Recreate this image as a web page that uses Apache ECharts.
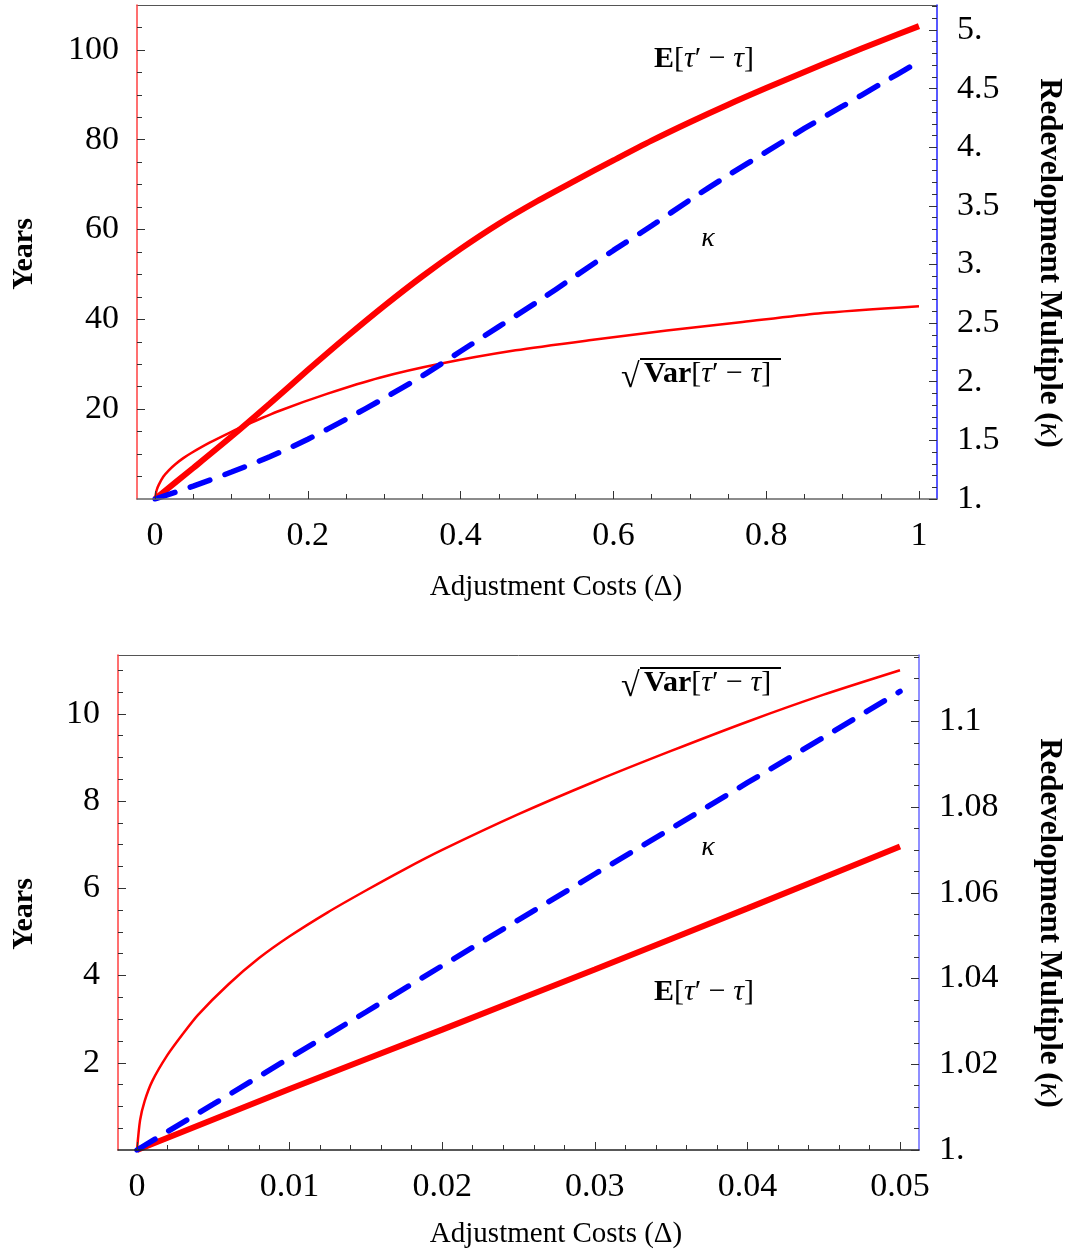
<!DOCTYPE html>
<html>
<head>
<meta charset="utf-8">
<script src="https://cdn.jsdelivr.net/npm/echarts@6/dist/echarts.min.js"></script>
<style>
  html, body { margin: 0; padding: 0; background: #fff; }
  #chart { width: 1069px; height: 1253px; }
</style>
</head>
<body>
<div id="chart"></div>
<script>
// ---- top panel, Δ from 0 to 1 ----
var topX = [0, 0.05, 0.1, 0.15, 0.2, 0.25, 0.3, 0.35, 0.4, 0.45, 0.5, 0.55, 0.6, 0.65, 0.7, 0.75, 0.8, 0.85, 0.9, 0.95, 1];
var topE = [0, 6.9, 13.9, 21.2, 28.7, 36.0, 43.0, 49.6, 55.7, 61.3, 66.3, 70.9, 75.4, 79.8, 83.9, 87.8, 91.5, 95.1, 98.6, 102.0, 105.3];
var topKappa = [1.0, 1.11, 1.23, 1.36, 1.51, 1.68, 1.86, 2.05, 2.26, 2.47, 2.68, 2.90, 3.12, 3.33, 3.55, 3.76, 3.96, 4.16, 4.35, 4.54, 4.73];
var topVarX = [0, 0.002, 0.005, 0.011, 0.018, 0.027, 0.037, 0.048, 0.072, 0.098, 0.118, 0.164, 0.225, 0.294, 0.373, 0.472, 0.571, 0.67, 0.769, 0.868, 1];
var topVar = [0, 1.9, 3.2, 5.0, 6.4, 7.8, 9.1, 10.3, 12.6, 14.8, 16.4, 19.7, 23.4, 27.0, 30.1, 33.1, 35.4, 37.5, 39.4, 41.3, 42.9];

// ---- bottom panel, Δ from 0 to 0.05 ----
var botX = [0, 0.005, 0.01, 0.015, 0.02, 0.025, 0.03, 0.035, 0.04, 0.045, 0.05];
var botE = [0, 0.7, 1.4, 2.08, 2.76, 3.45, 4.14, 4.84, 5.54, 6.25, 6.96];
var botKappa = [1, 1.0107, 1.0215, 1.0322, 1.043, 1.0537, 1.0644, 1.075, 1.0857, 1.0963, 1.107];
var botVarX = [0, 0.0002, 0.0005, 0.001, 0.002, 0.003, 0.004, 0.006, 0.008, 0.01, 0.0125, 0.015, 0.0175, 0.02, 0.025, 0.03, 0.035, 0.04, 0.045, 0.05];
var botVar = [0, 0.68, 1.12, 1.58, 2.18, 2.66, 3.1, 3.8, 4.4, 4.9, 5.45, 5.95, 6.43, 6.88, 7.7, 8.45, 9.15, 9.82, 10.44, 11.0];

// ---- tick labels ----
var topXTicks = [0, 0.2, 0.4, 0.6, 0.8, 1];
var topYearTicks = [20, 40, 60, 80, 100];
var topKappaTicks = [1, 1.5, 2, 2.5, 3, 3.5, 4, 4.5, 5];
var botXTicks = [0, 0.01, 0.02, 0.03, 0.04, 0.05];
var botYearTicks = [2, 4, 6, 8, 10];
var botKappaTicks = [1, 1.02, 1.04, 1.06, 1.08, 1.1];

var FONT = "'Liberation Serif', 'Times New Roman', serif";
var RED = '#ff0000';
var BLUE = '#0000ff';

function pairs(xs, ys) {
  return xs.map(function (x, i) { return [x, ys[i]]; });
}

// minor tick positions between the labelled ones
function minors(from, to, step, major) {
  var out = [];
  for (var i = Math.ceil(from / step - 1e-9); i * step <= to + 1e-9; i++) {
    var v = i * step;
    var hit = major.some(function (m) { return Math.abs(m - v) < step / 10; });
    if (!hit) out.push(v);
  }
  return out;
}

// Mathematica style: "1." "5." for whole numbers
function mmaFmt(v) {
  return Number.isInteger(v) ? v + '.' : String(v);
}

function majorAxis(o) {
  return Object.assign({
    type: 'value',
    z: 5,
    splitLine: { show: false },
    axisLine: { show: true, onZero: false, lineStyle: { color: o.lineColor, width: 1.5 } },
    axisTick: { show: true, inside: true, length: 8, customValues: o.ticks, lineStyle: { color: '#333' } },
    axisLabel: {
      customValues: o.labels || o.ticks, margin: o.margin, color: '#000',
      fontFamily: FONT, fontSize: 34, formatter: o.fmt || function (v) { return String(v); }
    }
  }, o.base);
}

function minorAxis(o) {
  return Object.assign({
    type: 'value',
    z: 5,
    splitLine: { show: false },
    axisLine: { show: false, onZero: false },
    axisLabel: { show: false },
    axisTick: { show: true, inside: true, length: 5, customValues: o.ticks, lineStyle: { color: '#333' } }
  }, o.base);
}

// plain frame line along the top of a panel
function frameAxis(base) {
  return Object.assign({
    type: 'value',
    splitLine: { show: false },
    axisLine: { show: true, onZero: false, lineStyle: { color: '#555', width: 1 } },
    axisTick: { show: false },
    axisLabel: { show: false }
  }, base, { position: 'top' });
}

var topXBase = { gridIndex: 0, position: 'bottom', min: -0.0236, max: 1.0236 };
var botXBase = { gridIndex: 1, position: 'bottom', min: -0.001245, max: 0.051245 };
var topYLBase = { gridIndex: 0, position: 'left', min: 0, max: 110 };
var topYRBase = { gridIndex: 0, position: 'right', min: 1, max: 5.213 };
var botYLBase = { gridIndex: 1, position: 'left', min: 0, max: 11.35 };
var botYRBase = { gridIndex: 1, position: 'right', min: 1, max: 1.1155 };

var chart = echarts.init(document.getElementById('chart'));

var option = {
  animation: false,
  backgroundColor: '#fff',
  grid: [
    { left: 137, top: 5, width: 800, height: 494 },
    { left: 118, top: 655, width: 801, height: 495 }
  ],
  xAxis: [
    majorAxis({ base: topXBase, ticks: topXTicks, lineColor: '#666', margin: 20 }),
    minorAxis({ base: topXBase, ticks: minors(0, 1, 0.05, topXTicks) }),
    majorAxis({ base: botXBase, ticks: botXTicks, lineColor: '#222', margin: 20 }),
    minorAxis({ base: botXBase, ticks: minors(0, 0.05, 0.002, botXTicks) }),
    frameAxis(topXBase),
    frameAxis(botXBase)
  ],
  yAxis: [
    majorAxis({ base: topYLBase, ticks: topYearTicks, lineColor: '#ff4040', margin: 18 }),
    minorAxis({ base: topYLBase, ticks: minors(5, 105, 5, topYearTicks) }),
    majorAxis({ base: topYRBase, ticks: topKappaTicks, lineColor: '#2020ff', margin: 20, fmt: mmaFmt }),
    minorAxis({ base: topYRBase, ticks: minors(1.1, 5.2, 0.1, topKappaTicks) }),
    majorAxis({ base: botYLBase, ticks: botYearTicks, lineColor: '#ff4040', margin: 18 }),
    minorAxis({ base: botYLBase, ticks: minors(0.5, 11, 0.5, botYearTicks) }),
    majorAxis({ base: botYRBase, ticks: botKappaTicks, lineColor: '#6a6aff', margin: 20, fmt: mmaFmt }),
    minorAxis({ base: botYRBase, ticks: minors(1.005, 1.115, 0.005, botKappaTicks) })
  ],
  series: [
    // top panel
    { name: 'sdTop', type: 'line', xAxisIndex: 0, yAxisIndex: 0, data: pairs(topVarX, topVar),
      symbol: 'none', smooth: 0.25, lineStyle: { color: RED, width: 2.5 }, z: 2 },
    { name: 'meanTop', type: 'line', xAxisIndex: 0, yAxisIndex: 0, data: pairs(topX, topE),
      symbol: 'none', smooth: 0.3, lineStyle: { color: RED, width: 6 }, z: 3 },
    { name: 'kappaTop', type: 'line', xAxisIndex: 0, yAxisIndex: 2, data: pairs(topX, topKappa),
      symbol: 'none', smooth: 0.3, lineStyle: { color: BLUE, width: 5.5, type: [21, 16], cap: 'round' }, z: 4 },
    // bottom panel
    { name: 'sdBot', type: 'line', xAxisIndex: 2, yAxisIndex: 4, data: pairs(botVarX, botVar),
      symbol: 'none', smooth: 0.25, lineStyle: { color: RED, width: 2.5 }, z: 2 },
    { name: 'meanBot', type: 'line', xAxisIndex: 2, yAxisIndex: 4, data: pairs(botX, botE),
      symbol: 'none', lineStyle: { color: RED, width: 6 }, z: 3 },
    { name: 'kappaBot', type: 'line', xAxisIndex: 2, yAxisIndex: 6, data: pairs(botX, botKappa),
      symbol: 'none', lineStyle: { color: BLUE, width: 5.5, type: [21, 16], cap: 'round' }, z: 4 }
  ],
  graphic: []
};

// axis titles and curve labels
var rich = {
  b: { fontFamily: FONT, fontSize: 30, fontWeight: 'bold', color: '#000' },
  n: { fontFamily: FONT, fontSize: 30, color: '#000' },
  i: { fontFamily: FONT, fontSize: 30, fontStyle: 'italic', color: '#000' },
  tb: { fontFamily: FONT, fontSize: 31, fontWeight: 'bold', color: '#000' },
  ti: { fontFamily: FONT, fontSize: 31, fontStyle: 'italic', color: '#000' }
};
var TAU_DIFF = '{n|[}{i|τ}{n|′ − }{i|τ}{n|]}';

function axisTitles(cy, xTitleY) {
  return [
    { type: 'text', x: 556, y: xTitleY, style: { text: 'Adjustment Costs (Δ)', font: '29px ' + FONT, fill: '#000', textAlign: 'center', textVerticalAlign: 'middle' } },
    { type: 'text', x: 24, y: cy, rotation: Math.PI / 2, style: { text: 'Years', font: 'bold 30px ' + FONT, fill: '#000', textAlign: 'center', textVerticalAlign: 'middle' } },
    { type: 'text', x: 1049, y: cy + 9, rotation: -Math.PI / 2, style: { text: '{tb|Redevelopment Multiple (}{ti|κ}{tb|)}', rich: rich, textAlign: 'center', textVerticalAlign: 'middle' } }
  ];
}

function meanLabel(y) {
  return { type: 'text', x: 654, y: y, style: { text: '{b|E}' + TAU_DIFF, rich: rich, textAlign: 'left', textVerticalAlign: 'middle' } };
}
function kappaLabel(y) {
  return { type: 'text', x: 708, y: y, style: { text: 'κ', font: 'italic 28px ' + FONT, fill: '#000', textAlign: 'center', textVerticalAlign: 'middle' } };
}
function sdLabel(y) {
  return [
    { type: 'text', x: 621, y: y + 4, style: { text: '√', font: '34px ' + FONT, fill: '#000', textAlign: 'left', textVerticalAlign: 'middle' } },
    { type: 'line', shape: { x1: 640, y1: y - 15, x2: 781, y2: y - 15 }, style: { stroke: '#000', lineWidth: 2 } },
    { type: 'text', x: 644, y: y, style: { text: '{b|Var}' + TAU_DIFF, rich: rich, textAlign: 'left', textVerticalAlign: 'middle' } }
  ];
}

option.graphic = [].concat(
  axisTitles(254, 587),
  axisTitles(914, 1234),
  [meanLabel(59), kappaLabel(239)], sdLabel(374),
  [meanLabel(992), kappaLabel(848)], sdLabel(683)
);

chart.setOption(option);
</script>
</body>
</html>
